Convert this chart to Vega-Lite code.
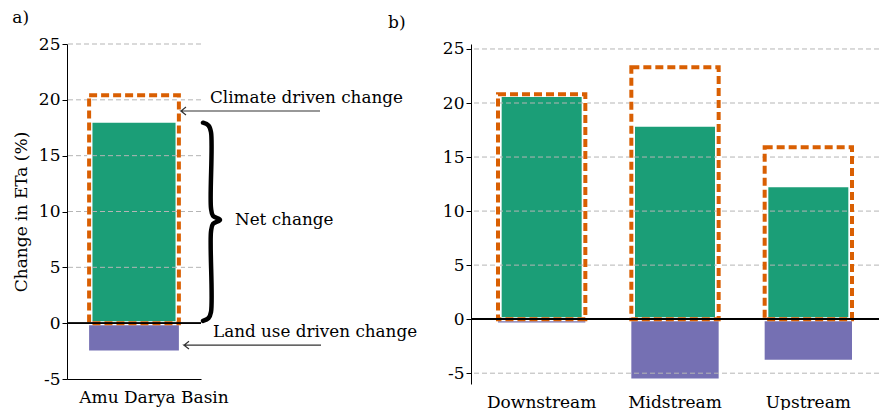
{
  "$schema": "https://vega.github.io/schema/vega-lite/v6.json",
  "padding": {"left": 12, "top": 9, "right": 0, "bottom": 0},
  "background": "white",
  "config": {
    "font": "DejaVu Serif",
    "view": {"stroke": null},
    "axis": {"labelColor": "#000", "labelFontSize": 17, "labelFont": "DejaVu Serif", "domainColor": "#000", "tickColor": "#000", "titleColor": "#000", "titleFontWeight": "normal", "titleFontSize": 17, "titleFont": "DejaVu Serif"},
    "title": {"font": "DejaVu Serif", "fontSize": 17, "fontWeight": "normal", "color": "#000"}
  },
  "bounds": "flush",
  "spacing": 270,
  "hconcat": [
    {
      "width": 134,
      "height": 335,
      "title": {"text": "a)", "anchor": "start", "frame": "bounds", "offset": 8},
      "resolve": {"scale": {"x": "independent"}, "axis": {"x": "independent"}},
      "layer": [
        {
          "data": {"values": [
            {"basin": "Amu Darya Basin", "component": "Net change", "value": 17.95},
            {"basin": "Amu Darya Basin", "component": "Land use driven change", "value": -2.45},
            {"basin": "Amu Darya Basin", "component": "Climate driven change", "value": 20.4}
          ]},
          "layer": [
            {
              "transform": [{"filter": "datum.component === 'Net change'"}],
              "mark": {"type": "bar", "color": "#1b9e77", "width": {"band": 0.62}},
              "encoding": {
                "x": {"field": "basin", "type": "nominal", "scale": {"paddingInner": 0, "paddingOuter": 0}, "axis": {"title": null, "labelAngle": 0, "ticks": false, "domain": true, "domainWidth": 1.2, "labelPadding": 10, "labelOffset": 20, "labelFontSize": 17}},
                "y": {"field": "value", "type": "quantitative", "scale": {"domain": [-5, 25], "nice": false, "zero": false}, "axis": {"title": "Change in ETa (%)", "values": [-5, 0, 5, 10, 15, 20, 25], "labelExpr": "'' + datum.value", "grid": false, "tickSize": 5, "labelPadding": 2, "titlePadding": 8}}
              }
            },
            {
              "transform": [{"filter": "datum.component === 'Land use driven change'"}],
              "mark": {"type": "bar", "color": "#7570b3", "width": {"band": 0.67}},
              "encoding": {
                "x": {"field": "basin", "type": "nominal", "scale": {"paddingInner": 0, "paddingOuter": 0}},
                "y": {"field": "value", "type": "quantitative", "scale": {"domain": [-5, 25], "nice": false, "zero": false}}
              }
            },
            {
              "data": {"values": [{"g": 5}, {"g": 10}, {"g": 15}, {"g": 20}, {"g": 25}]},
              "mark": {"type": "rule", "color": "#b5b5b5", "strokeDash": [5, 3], "strokeWidth": 1},
              "encoding": {"y": {"field": "g", "type": "quantitative", "scale": {"domain": [-5, 25], "nice": false, "zero": false}}}
            },
            {
              "transform": [{"filter": "datum.component === 'Climate driven change'"}],
              "mark": {"type": "bar", "fill": "white", "fillOpacity": 0, "stroke": "white", "strokeWidth": 4, "width": {"band": 0.67}},
              "encoding": {
                "x": {"field": "basin", "type": "nominal", "scale": {"paddingInner": 0, "paddingOuter": 0}},
                "y": {"field": "value", "type": "quantitative", "scale": {"domain": [-5, 25], "nice": false, "zero": false}}
              }
            },
            {
              "transform": [{"filter": "datum.component === 'Climate driven change'"}],
              "mark": {"type": "bar", "fill": "white", "fillOpacity": 0, "stroke": "#d95f02", "strokeWidth": 4, "strokeDash": [8, 4], "width": {"band": 0.67}},
              "encoding": {
                "x": {"field": "basin", "type": "nominal", "scale": {"paddingInner": 0, "paddingOuter": 0}},
                "y": {"field": "value", "type": "quantitative", "scale": {"domain": [-5, 25], "nice": false, "zero": false}}
              }
            },
            {
              "mark": {"type": "rule", "color": "#000", "strokeWidth": 1.2},
              "encoding": {"y": {"datum": 0, "type": "quantitative", "scale": {"domain": [-5, 25], "nice": false, "zero": false}}}
            }
          ]
        },
        {
          "layer": [
            {
              "data": {"values": [
                {"label": "Climate driven change", "ax": 14.3, "ay": 20.2},
                {"label": "Net change", "ax": 16.8, "ay": 9.2},
                {"label": "Land use driven change", "ax": 14.6, "ay": -0.8}
              ]},
              "mark": {"type": "text", "align": "left", "baseline": "middle", "fontSize": 16.8, "font": "DejaVu Serif", "color": "#000"},
              "encoding": {
                "x": {"field": "ax", "type": "quantitative", "scale": {"domain": [0, 13.4], "nice": false, "zero": false}, "axis": null},
                "y": {"field": "ay", "type": "quantitative", "scale": {"domain": [-5, 25], "nice": false, "zero": false}},
                "text": {"field": "label"}
              }
            },
            {
              "data": {"values": [
                {"arrow": "climate", "i": 0, "ax": 11.9, "ay": 19.35},
                {"arrow": "climate", "i": 1, "ax": 11.4, "ay": 19.0},
                {"arrow": "climate", "i": 2, "ax": 11.9, "ay": 18.65},
                {"arrow": "climate", "i": 3, "ax": 11.4, "ay": 19.0},
                {"arrow": "climate", "i": 4, "ax": 25.3, "ay": 19.0},
                {"arrow": "land", "i": 0, "ax": 12.2, "ay": -1.62},
                {"arrow": "land", "i": 1, "ax": 11.7, "ay": -1.97},
                {"arrow": "land", "i": 2, "ax": 12.2, "ay": -2.32},
                {"arrow": "land", "i": 3, "ax": 11.7, "ay": -1.97},
                {"arrow": "land", "i": 4, "ax": 25.4, "ay": -1.97}
              ]},
              "mark": {"type": "line", "color": "#333", "strokeWidth": 1.2},
              "encoding": {
                "x": {"field": "ax", "type": "quantitative", "scale": {"domain": [0, 13.4], "nice": false, "zero": false}, "axis": null},
                "y": {"field": "ay", "type": "quantitative", "scale": {"domain": [-5, 25], "nice": false, "zero": false}},
                "detail": {"field": "arrow"},
                "order": {"field": "i"}
              }
            },
            {
              "data": {"values": [
                {"i": 0, "ax": 13.6, "ay": 17.95},
                {"i": 1, "ax": 14.15, "ay": 17.7},
                {"i": 2, "ax": 14.4, "ay": 17.1},
                {"i": 3, "ax": 14.4, "ay": 10.3},
                {"i": 4, "ax": 14.6, "ay": 9.6},
                {"i": 5, "ax": 15.3, "ay": 9.25},
                {"i": 6, "ax": 14.6, "ay": 8.9},
                {"i": 7, "ax": 14.4, "ay": 8.2},
                {"i": 8, "ax": 14.4, "ay": 1.0},
                {"i": 9, "ax": 14.15, "ay": 0.45},
                {"i": 10, "ax": 13.6, "ay": 0.2}
              ]},
              "mark": {"type": "line", "color": "#000", "strokeWidth": 4.5, "interpolate": "catmull-rom", "strokeCap": "round"},
              "encoding": {
                "x": {"field": "ax", "type": "quantitative", "scale": {"domain": [0, 13.4], "nice": false, "zero": false}, "axis": null},
                "y": {"field": "ay", "type": "quantitative", "scale": {"domain": [-5, 25], "nice": false, "zero": false}},
                "order": {"field": "i"}
              }
            }
          ]
        }
      ]
    },
    {
      "width": 408,
      "height": 340,
      "title": {"text": "b)", "anchor": "start", "frame": "group", "dx": -83, "offset": 8},
      "data": {"values": [
        {"region": "Downstream", "component": "Net change", "value": 20.55},
        {"region": "Downstream", "component": "Land use driven change", "value": -0.3},
        {"region": "Downstream", "component": "Climate driven change", "value": 20.8},
        {"region": "Midstream", "component": "Net change", "value": 17.8},
        {"region": "Midstream", "component": "Land use driven change", "value": -5.5},
        {"region": "Midstream", "component": "Climate driven change", "value": 23.3},
        {"region": "Upstream", "component": "Net change", "value": 12.2},
        {"region": "Upstream", "component": "Land use driven change", "value": -3.75},
        {"region": "Upstream", "component": "Climate driven change", "value": 15.9}
      ]},
      "layer": [
        {
          "transform": [{"filter": "datum.component === 'Net change'"}],
          "mark": {"type": "bar", "color": "#1b9e77", "width": {"band": 0.6}},
          "encoding": {
            "x": {"field": "region", "type": "nominal", "sort": ["Downstream", "Midstream", "Upstream"], "scale": {"paddingInner": 0, "paddingOuter": 0.03}, "axis": {"title": null, "labelAngle": 0, "ticks": false, "domain": false, "labelPadding": 10, "labelFontSize": 17}},
            "y": {"field": "value", "type": "quantitative", "scale": {"domain": [-6, 25.46], "nice": false, "zero": false}, "axis": {"title": null, "values": [-5, 0, 5, 10, 15, 20, 25], "labelExpr": "'' + datum.value", "grid": false, "tickSize": 5, "labelPadding": 2}}
          }
        },
        {
          "transform": [{"filter": "datum.component === 'Land use driven change'"}],
          "mark": {"type": "bar", "color": "#7570b3", "width": {"band": 0.655}},
          "encoding": {
            "x": {"field": "region", "type": "nominal", "sort": ["Downstream", "Midstream", "Upstream"], "scale": {"paddingInner": 0, "paddingOuter": 0.03}},
            "y": {"field": "value", "type": "quantitative", "scale": {"domain": [-6, 25.46], "nice": false, "zero": false}}
          }
        },
        {
          "data": {"values": [{"g": -5}, {"g": 5}, {"g": 10}, {"g": 15}, {"g": 20}, {"g": 25}]},
          "mark": {"type": "rule", "color": "#b5b5b5", "strokeDash": [5, 3], "strokeWidth": 1},
          "encoding": {"y": {"field": "g", "type": "quantitative", "scale": {"domain": [-6, 25.46], "nice": false, "zero": false}}}
        },
        {
          "transform": [{"filter": "datum.component === 'Climate driven change'"}],
          "mark": {"type": "bar", "fill": "white", "fillOpacity": 0, "stroke": "white", "strokeWidth": 4, "width": {"band": 0.655}},
          "encoding": {
            "x": {"field": "region", "type": "nominal", "sort": ["Downstream", "Midstream", "Upstream"], "scale": {"paddingInner": 0, "paddingOuter": 0.03}},
            "y": {"field": "value", "type": "quantitative", "scale": {"domain": [-6, 25.46], "nice": false, "zero": false}}
          }
        },
        {
          "transform": [{"filter": "datum.component === 'Climate driven change'"}],
          "mark": {"type": "bar", "fill": "white", "fillOpacity": 0, "stroke": "#d95f02", "strokeWidth": 4, "strokeDash": [8, 4], "width": {"band": 0.655}},
          "encoding": {
            "x": {"field": "region", "type": "nominal", "sort": ["Downstream", "Midstream", "Upstream"], "scale": {"paddingInner": 0, "paddingOuter": 0.03}},
            "y": {"field": "value", "type": "quantitative", "scale": {"domain": [-6, 25.46], "nice": false, "zero": false}}
          }
        },
        {
          "mark": {"type": "rule", "color": "#000", "strokeWidth": 1.2},
          "encoding": {"y": {"datum": 0, "type": "quantitative", "scale": {"domain": [-6, 25.46], "nice": false, "zero": false}}}
        }
      ]
    }
  ]
}
